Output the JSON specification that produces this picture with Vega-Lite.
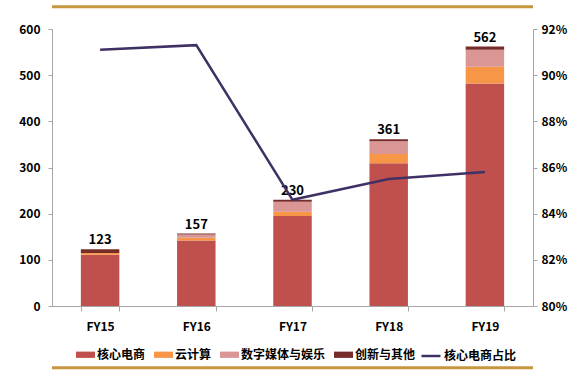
{
  "$schema": "https://vega.github.io/schema/vega-lite/v6.json",
  "width": 481,
  "height": 277,
  "autosize": {"type": "none"},
  "padding": {"left": 52, "top": 29, "right": 53, "bottom": 69},
  "background": "white",
  "config": {
    "font": "Noto Sans CJK SC",
    "view": {"stroke": null},
    "axis": {"labelFont": "Noto Sans CJK SC", "labelFontWeight": "bold", "labelColor": "#000000", "labelFontSize": 12, "domainColor": "#A6A6A6", "tickColor": "#A6A6A6", "grid": false, "title": null},
    "legend": {"labelFont": "Noto Sans CJK SC", "labelFontWeight": "bold", "labelFontSize": 12, "labelColor": "#000000"}
  },
  "datasets": {
    "bars": [
      {"year": "FY15", "seg": "核心电商", "value": 111},
      {"year": "FY15", "seg": "云计算", "value": 4},
      {"year": "FY15", "seg": "数字媒体与娱乐", "value": 0},
      {"year": "FY15", "seg": "创新与其他", "value": 8},
      {"year": "FY16", "seg": "核心电商", "value": 142},
      {"year": "FY16", "seg": "云计算", "value": 6},
      {"year": "FY16", "seg": "数字媒体与娱乐", "value": 7},
      {"year": "FY16", "seg": "创新与其他", "value": 2},
      {"year": "FY17", "seg": "核心电商", "value": 195},
      {"year": "FY17", "seg": "云计算", "value": 9},
      {"year": "FY17", "seg": "数字媒体与娱乐", "value": 22},
      {"year": "FY17", "seg": "创新与其他", "value": 4},
      {"year": "FY18", "seg": "核心电商", "value": 309},
      {"year": "FY18", "seg": "云计算", "value": 20},
      {"year": "FY18", "seg": "数字媒体与娱乐", "value": 28},
      {"year": "FY18", "seg": "创新与其他", "value": 4},
      {"year": "FY19", "seg": "核心电商", "value": 482},
      {"year": "FY19", "seg": "云计算", "value": 36},
      {"year": "FY19", "seg": "数字媒体与娱乐", "value": 37},
      {"year": "FY19", "seg": "创新与其他", "value": 7}
    ],
    "share": [
      {"year": "FY15", "name": "核心电商占比", "ratio": 0.911},
      {"year": "FY16", "name": "核心电商占比", "ratio": 0.913},
      {"year": "FY17", "name": "核心电商占比", "ratio": 0.846},
      {"year": "FY18", "name": "核心电商占比", "ratio": 0.855},
      {"year": "FY19", "name": "核心电商占比", "ratio": 0.858}
    ],
    "frame": [{"pos": 648}, {"pos": -134}]
  },
  "encoding": {
    "x": {"field": "year", "type": "nominal", "sort": null,
      "scale": {"paddingInner": 0.6, "paddingOuter": 0.3},
      "axis": {"labelAngle": 0, "tickBand": "extent", "tickSize": 5, "labelPadding": 10}}
  },
  "layer": [
    {
      "layer": [
        {
          "data": {"name": "bars"},
          "mark": {"type": "bar"},
          "encoding": {
            "y": {"field": "value", "type": "quantitative", "aggregate": "sum",
              "scale": {"domain": [0, 600], "nice": false},
              "axis": {"values": [0, 100, 200, 300, 400, 500, 600], "tickSize": 4, "labelPadding": 8}},
            "color": {"field": "seg", "type": "nominal",
              "scale": {"domain": ["核心电商", "云计算", "数字媒体与娱乐", "创新与其他"], "range": ["#C0504D", "#F79646", "#D99694", "#772C2A"]},
              "legend": {"orient": "none", "legendX": 24, "legendY": 316, "direction": "horizontal", "title": null, "symbolType": "M-1,-0.33H1V0.33H-1Z", "symbolSize": 361, "symbolStrokeWidth": 0, "columnPadding": 8, "labelOffset": 2}},
            "order": {"field": "seg_order"}
          }
        },
        {
          "data": {"name": "bars"},
          "mark": {"type": "text", "dy": -9, "fontWeight": "bold", "fontSize": 13, "color": "#000000", "font": "Noto Sans CJK SC"},
          "encoding": {
            "y": {"field": "value", "type": "quantitative", "aggregate": "sum"},
            "text": {"field": "value", "type": "quantitative", "aggregate": "sum"}
          }
        },
        {
          "data": {"name": "frame"},
          "mark": {"type": "rule", "color": "#C8963E", "strokeWidth": 3, "clip": false},
          "encoding": {"y": {"field": "pos", "type": "quantitative"}, "x": null}
        }
      ]
    },
    {
      "data": {"name": "share"},
      "mark": {"type": "line", "color": "#403165", "strokeWidth": 2.5},
      "encoding": {
        "y": {"field": "ratio", "type": "quantitative",
          "scale": {"domain": [0.8, 0.92], "nice": false, "zero": false},
          "axis": {"orient": "right", "format": ".0%", "values": [0.8, 0.82, 0.84, 0.86, 0.88, 0.9, 0.92], "tickSize": 4, "labelPadding": 4}},
        "stroke": {"field": "name", "type": "nominal",
          "scale": {"range": ["#403165"]},
          "legend": {"orient": "none", "legendX": 368, "legendY": 316, "title": null, "symbolType": "stroke", "symbolStrokeWidth": 2.5, "symbolSize": 361, "labelOffset": 2}}
      }
    }
  ],
  "resolve": {"scale": {"y": "independent"}}
}
